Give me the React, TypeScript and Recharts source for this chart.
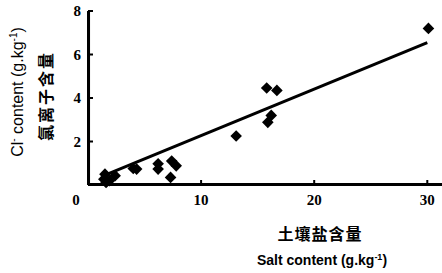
import React from 'react';
import { ComposedChart, XAxis, YAxis, Scatter, ReferenceArea } from 'recharts';

const saltValues = [30.1, 15.8, 16.7, 16.2, 15.9, 13.1, 7.4, 7.8, 7.3, 6.2, 6.2, 4.3, 4.0, 2.4, 1.5, 1.4, 1.6, 1.9];
const chlorideValues = [7.2, 4.46, 4.35, 3.2, 2.88, 2.25, 1.1, 0.88, 0.35, 0.98, 0.73, 0.73, 0.76, 0.43, 0.5, 0.27, 0.12, 0.2];
const trendSalt = [1.5, 30];
const trendChloride = [0.45, 6.55];
const xTicks = [0, 10, 20, 30];
const yTicks = [2, 4, 6, 8];
const xDomain = [0, 31.3];
const yDomain = [0, 8];

const points = saltValues.map((x, i) => ({ x, y: chlorideValues[i] }));
const trend = trendSalt.map((x, i) => ({ x, y: trendChloride[i] }));

const serif = '"Liberation Serif", "DejaVu Serif", serif';
const sans = '"Liberation Sans", Arial, sans-serif';

const Diamond = (props: any) => {
  const { cx, cy } = props;
  const r = 5.8;
  return <polygon points={`${cx},${cy - r} ${cx + r},${cy} ${cx},${cy + r} ${cx - r},${cy}`} fill="#000" />;
};

const XTick = (props: any) => {
  const { x, y, payload } = props;
  const isZero = payload.value === 0;
  return (
    <g>
      {!isZero && <rect x={x - 1} y={y - 5} width={2} height={5} fill="#000" />}
      <text x={isZero ? x - 12 : x} y={y + 20} textAnchor="middle" fontFamily={serif} fontWeight="bold" fontSize={15} fill="#000">
        {payload.value}
      </text>
    </g>
  );
};

const YTick = (props: any) => {
  const { x, y, payload } = props;
  return (
    <g>
      <rect x={x} y={y - 1} width={5} height={2} fill="#000" />
      <text x={x - 7} y={y + 5} textAnchor="end" fontFamily={serif} fontWeight="bold" fontSize={15} fill="#000">
        {payload.value}
      </text>
    </g>
  );
};

export default function App() {
  return (
    <div style={{ position: 'absolute', left: 0, top: 0, width: 442, height: 273, background: '#fff' }}>
      <ComposedChart width={442} height={273} margin={{ top: 11, right: 0, bottom: 58, left: 58 }}>
        <XAxis
          type="number"
          dataKey="x"
          domain={xDomain}
          ticks={xTicks}
          height={30}
          axisLine={{ stroke: '#000', strokeWidth: 2 }}
          tickLine={false}
          tickSize={0}
          tick={<XTick />}
          tickMargin={0}
          interval={0}
        />
        <YAxis
          type="number"
          dataKey="y"
          domain={yDomain}
          ticks={yTicks}
          width={30}
          axisLine={{ stroke: '#000', strokeWidth: 2 }}
          tickLine={false}
          tickSize={0}
          tick={<YTick />}
          tickMargin={0}
          interval={0}
        />
        <ReferenceArea x1={0} x2={31.3} y1={0} y2={0.09} fill="#000" fillOpacity={1} stroke="none" ifOverflow="visible" />
        <ReferenceArea x1={0} x2={0.18} y1={0} y2={8} fill="#000" fillOpacity={1} stroke="none" ifOverflow="visible" />
        <Scatter data={trend} line={{ stroke: '#000', strokeWidth: 3 }} lineType="joint" shape={() => null} isAnimationActive={false} />
        <Scatter data={points} shape={<Diamond />} isAnimationActive={false} />
      </ComposedChart>
      <svg width={442} height={273} style={{ position: 'absolute', left: 0, top: 0, pointerEvents: 'none' }}>
        <text transform="translate(23,92) rotate(-90)" textAnchor="middle" fontFamily={sans} fontSize={16} fill="#000">
          Cl<tspan dy={-6} fontSize={10}>-</tspan><tspan dy={6}> content (g.kg</tspan><tspan dy={-6} fontSize={10}>-1</tspan><tspan dy={6}>)</tspan>
        </text>
        <text transform="translate(52,96) rotate(-90)" textAnchor="middle" fontFamily='"Noto Sans CJK SC", sans-serif' fontWeight="bold" fontSize={16} letterSpacing={2} fill="#000">
          氯离子含量
        </text>
        <text x={320} y={240} textAnchor="middle" fontFamily='"Noto Sans CJK SC", sans-serif' fontWeight="bold" fontSize={16} letterSpacing={1} fill="#000">
          土壤盐含量
        </text>
        <text x={322} y={265} textAnchor="middle" fontFamily={sans} fontWeight="bold" fontSize={14} fill="#000">
          Salt content (g.kg<tspan dy={-5} fontSize={9}>-1</tspan><tspan dy={5}>)</tspan>
        </text>
      </svg>
    </div>
  );
}
